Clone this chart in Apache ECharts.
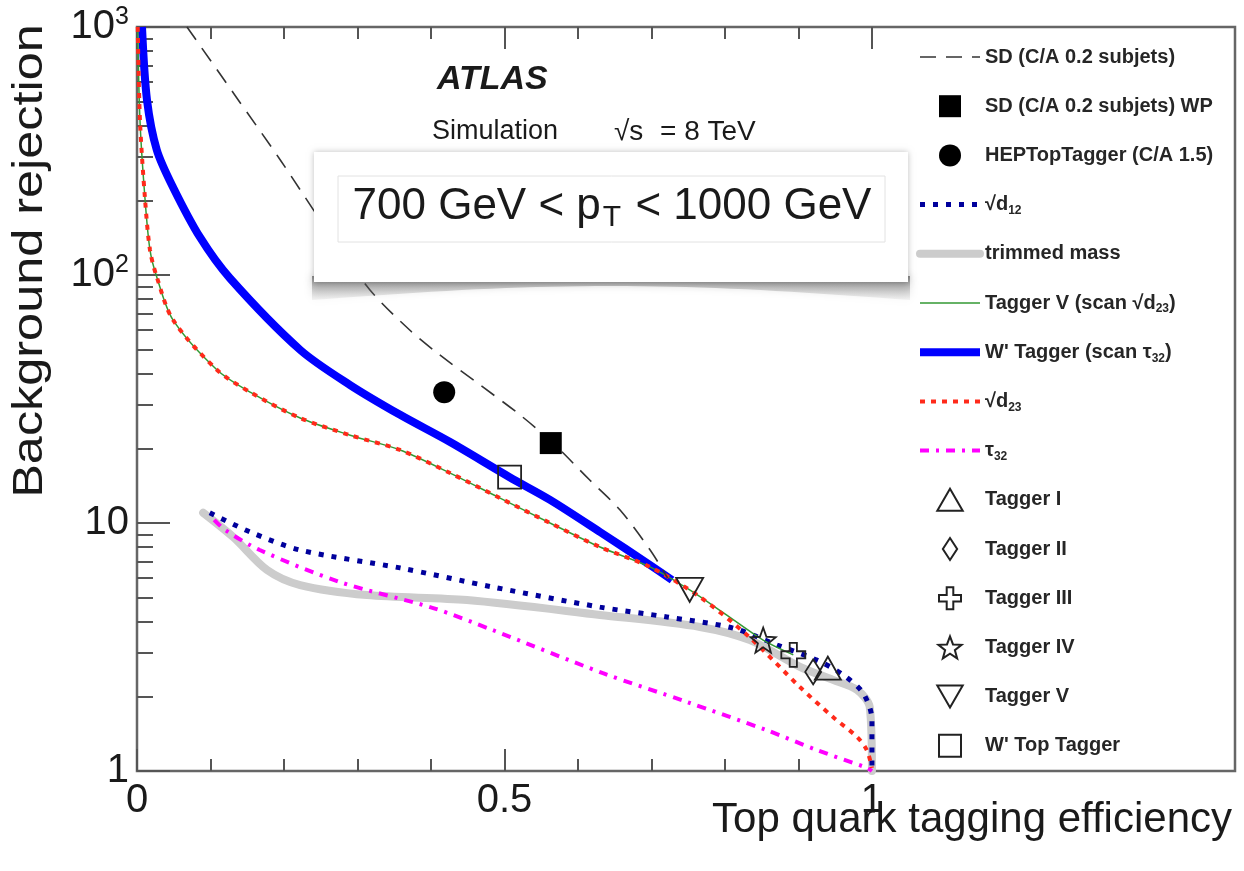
<!DOCTYPE html>
<html><head><meta charset="utf-8">
<script src="https://cdn.jsdelivr.net/npm/echarts@6/dist/echarts.min.js"></script>
<style>html,body{margin:0;padding:0;background:#fff}#c{width:1244px;height:871px}</style>
</head><body><div id="c"></div>
<script>
// ---------------- data ----------------
const sdX   = [0.068,0.133,0.195,0.263,0.317,0.371,0.412,0.467,0.521,0.566,0.616,0.657,0.698,0.722];
const sdY   = [1000,532,291,145,87,60,47.6,36,27.3,21,14.9,11.3,7.8,6.0];

const wpX   = [0.0068,0.0136,0.027,0.049,0.0857,0.1265,0.222,0.290,0.358,0.426,0.507,0.562,0.630,0.698,0.728];
const wpY   = [1000,508,319,226,142,97,49.9,36.0,27.3,21.2,15.3,12.4,9.2,6.77,5.89];

const d23X  = [0.001,0.004,0.011,0.0177,0.027,0.049,0.109,0.154,0.222,0.290,0.358,0.426,0.494,0.562,0.630,0.698,0.766,0.834,0.902,0.947,0.980,0.993,1.0];
const d23Y  = [1000,422,201,126,98,65.9,41.4,33.7,26.5,22.6,19.7,15.9,12.6,10.0,8.0,6.65,5.03,3.45,2.18,1.65,1.37,1.215,1.03];

const tvX   = [0.001,0.004,0.011,0.0177,0.027,0.049,0.109,0.154,0.222,0.290,0.358,0.426,0.494,0.562,0.630,0.698,0.752,0.80,0.852,0.893];
const tvY   = [1000,422,201,126,98,65.9,41.4,33.7,26.5,22.6,19.7,15.9,12.6,10.0,8.0,6.65,5.37,4.3,3.37,2.94];

const d12X  = [0.099,0.154,0.222,0.358,0.484,0.630,0.721,0.811,0.871,0.925,0.961,0.988,1.0,1.0];
const d12Y  = [11.0,9.2,7.78,6.59,5.52,4.58,4.18,3.77,3.22,2.80,2.44,2.06,1.61,1.0];

const trimX = [0.09,0.131,0.177,0.222,0.313,0.449,0.630,0.766,0.834,0.902,0.947,0.980,0.997,1.0];
const trimY = [11.0,8.77,6.46,5.62,5.12,4.89,4.26,3.81,3.37,2.63,2.33,2.12,1.81,1.0];

const tauX  = [0.105,0.120,0.167,0.276,0.403,0.484,0.634,0.748,0.857,0.925,0.993,1.0];
const tauY  = [10.3,9.37,7.78,5.78,4.54,3.70,2.48,1.90,1.46,1.215,1.03,1.0];

// working points: [efficiency, rejection]
const ptSDWP   = [0.563, 21.0];
const ptHEP    = [0.418, 33.7];
const ptT1     = [0.940, 2.60];
const ptT2     = [0.920, 2.51];
const ptT3     = [0.893, 2.94];
const ptT4     = [0.852, 3.37];
const ptT5     = [0.752, 5.37];
const ptWTop   = [0.507, 15.3];

// axes
const xMajorTicks = [0, 0.5, 1];
const xMinorTicks = [0.1,0.2,0.3,0.4,0.6,0.7,0.8,0.9];
const xTickLabels = ['0','0.5','1'];
const yMajorTicks = [1, 10, 100, 1000];
const yTickLabels = ['1','10','10^2','10^3'];
const yMinorTicks = [2,3,4,5,6,7,8,9,20,30,40,50,60,70,80,90,200,300,400,500,600,700,800,900];

// ---------------- chart ----------------
const FONT = 'Liberation Sans, Arial, Helvetica, sans-serif';
const TXT = '#1a1a1a';
const pair = (xs, ys) => xs.map((x, i) => [x, ys[i]]);

function starPath() {
  const pts = [];
  for (let i = 0; i < 10; i++) {
    const r = i % 2 === 0 ? 10 : 4.2;
    const a = -Math.PI / 2 + i * Math.PI / 5;
    pts.push((10 + r * Math.cos(a)).toFixed(2) + ',' + (10.5 + r * Math.sin(a)).toFixed(2));
  }
  return 'path://M' + pts.join('L') + 'Z';
}
const SYM = {
  square: 'path://M0,0H20V20H0Z',
  triangle: 'path://M10,0L20,17.3L0,17.3Z',
  triangleDown: 'path://M0,0L20,0L10,17.3Z',
  diamond: 'path://M6.5,0L13,10L6.5,20L0,10Z',
  cross: 'path://M7,0H13V7H20V13H13V20H7V13H0V7H7Z',
  star: starPath()
};

function line(name, xs, ys, ls, z) {
  return { name, type: 'line', data: pair(xs, ys), symbol: 'none', smooth: 0.3,
           lineStyle: ls, itemStyle: { color: ls.color }, z, silent: true, clip: false };
}
function pt(name, p, symbol, size, filled, z) {
  return { name, type: 'scatter', data: [p], symbol, symbolSize: size, z: z || 6, silent: true,
           itemStyle: filled ? { color: '#000', borderColor: '#000', borderWidth: 0, opacity: 1 }
                             : { color: 'rgba(0,0,0,0)', borderColor: '#222', borderWidth: 1.8, opacity: 1 } };
}

const series = [
  line('trimmed mass', trimX, trimY, { color: '#cccccc', width: 8, cap: 'round', join: 'round' }, 2),
  line('√d12', d12X, d12Y, { color: '#00009c', width: 5, type: [5, 8] }, 3),
  line('τ32', tauX, tauY, { color: '#ff00ff', width: 4, type: [9, 7, 3, 7] }, 3),
  line("W' Tagger (scan τ32)", wpX, wpY, { color: '#0000ff', width: 8, join: 'round' }, 4),
  line('Tagger V (scan √d23)', tvX, tvY, { color: '#339933', width: 1.5 }, 4),
  line('√d23', d23X, d23Y, { color: '#ff2a1a', width: 4, type: [5, 6] }, 5),
  line('SD (C/A 0.2 subjets)', sdX, sdY, { color: '#333333', width: 1.6, type: [16, 10] }, 5),
  pt('SD (C/A 0.2 subjets) WP', ptSDWP, SYM.square, 22, true),
  pt('HEPTopTagger (C/A 1.5)', ptHEP, 'circle', 22, true),
  pt('Tagger I', ptT1, SYM.triangle, [26, 23], false),
  pt('Tagger II', ptT2, SYM.diamond, [16, 25], false),
  pt('Tagger III', ptT3, SYM.cross, 24, false),
  pt('Tagger IV', ptT4, SYM.star, 25, false),
  pt('Tagger V', ptT5, SYM.triangleDown, [27, 24], false),
  pt("W' Top Tagger", ptWTop, SYM.square, 23, false)
];

const legendOrder = [
  ['SD (C/A 0.2 subjets)', 1.6], ['SD (C/A 0.2 subjets) WP'], ['HEPTopTagger (C/A 1.5)'],
  ['√d12', 5], ['trimmed mass', 8], ['Tagger V (scan √d23)', 1.5], ["W' Tagger (scan τ32)", 8],
  ['√d23', 4], ['τ32', 4], ['Tagger I'], ['Tagger II'], ['Tagger III'], ['Tagger IV'], ['Tagger V'], ["W' Top Tagger"]
];

const tickStyle = { lineStyle: { color: '#555', width: 2 } };
function xAx(pos, ticks, len, labels) {
  return {
    type: 'value', position: pos, min: 0, max: 1.494, gridIndex: 0,
    axisLine: { show: false }, splitLine: { show: false },
    axisTick: Object.assign({ show: true, inside: true, length: len, customValues: ticks }, tickStyle),
    axisLabel: labels ? {
      show: true, customValues: xMajorTicks, margin: 10, fontSize: 40, fontFamily: FONT, color: TXT,
      formatter: v => xTickLabels[xMajorTicks.findIndex(t => Math.abs(t - v) < 1e-9)]
    } : { show: false }
  };
}
function yTickAx(ticks, len, labels) {
  return {
    type: 'value', position: 'left', min: 0, max: 3, gridIndex: 0,
    axisLine: { show: false }, splitLine: { show: false },
    axisTick: Object.assign({ show: true, inside: true, length: len, customValues: ticks.map(Math.log10) }, tickStyle),
    axisLabel: labels ? {
      show: true, customValues: yMajorTicks.map(Math.log10), margin: 8,
      formatter: v => {
        const s = yTickLabels[yMajorTicks.findIndex(t => Math.abs(Math.log10(t) - v) < 1e-9)];
        const m = s.split('^');
        return m.length > 1 ? '{b|' + m[0] + '}{sup|' + m[1] + '}' : '{b|' + s + '}';
      },
      rich: {
        b: { fontSize: 40, fontFamily: FONT, color: TXT },
        sup: { fontSize: 25, fontFamily: FONT, color: TXT, padding: [0, 0, 20, 0] }
      }
    } : { show: false }
  };
}

// shadow under the pT box (curled-paper look)
const shadowPts = [];
for (let i = 0; i <= 40; i++) {
  const t = i / 40, x = 312 + t * 598;
  shadowPts.push([x, 300 - 14 * Math.sin(Math.PI * t)]);
}
shadowPts.push([910, 276], [312, 276]);

const LEG = '#262626';
const chart = echarts.init(document.getElementById('c'), null, { renderer: 'canvas' });
chart.setOption({
  animation: false,
  backgroundColor: '#fff',
  grid: { left: 137, top: 27, width: 1098, height: 744, show: true, borderColor: '#666', borderWidth: 2.5, backgroundColor: 'transparent' },
  xAxis: [
    xAx('bottom', xMinorTicks, 12, true),
    xAx('bottom', xMajorTicks, 22, false),
    xAx('top', xMinorTicks, 12, false),
    xAx('top', xMajorTicks, 22, false)
  ],
  yAxis: [
    { type: 'log', logBase: 10, min: 1, max: 1000, gridIndex: 0, show: false },
    yTickAx(yMajorTicks, 33, true),
    yTickAx(yMinorTicks, 16, false)
  ],
  legend: {
    orient: 'vertical', left: 916, top: 45, padding: 0,
    itemWidth: 60, itemHeight: 22, itemGap: 25.2, selectedMode: false,
    textStyle: { fontSize: 20, lineHeight: 24, fontWeight: 'bold', fontFamily: FONT, color: LEG,
                 rich: { sub: { fontSize: 12, lineHeight: 24, fontWeight: 'bold', fontFamily: FONT, color: LEG, verticalAlign: 'bottom' } } },
    formatter: name => name.replace(/(d|τ)(\d\d)/g, '$1{sub|$2}'),
    data: legendOrder.map(([n, w]) => w
      ? { name: n, lineStyle: { width: w }, itemStyle: { color: 'rgba(0,0,0,0)', borderWidth: 0, opacity: 0 } }
      : { name: n })
  },
  series,
  graphic: [
    { type: 'text', x: 30, y: 261, rotation: Math.PI / 2, scaleX: 1.2, z: 20,
      style: { text: 'Background rejection', fontSize: 42, fontFamily: FONT, fill: TXT, align: 'center', verticalAlign: 'middle' } },
    { type: 'text', x: 1232, y: 820, z: 20,
      style: { text: 'Top quark tagging efficiency', fontSize: 42, fontFamily: FONT, fill: TXT, align: 'right', verticalAlign: 'middle' } },
    { type: 'text', x: 437, y: 80, z: 20,
      style: { text: 'ATLAS', fontSize: 34, fontWeight: 'bold', fontStyle: 'italic', fontFamily: FONT, fill: TXT, align: 'left', verticalAlign: 'middle' } },
    { type: 'text', x: 432, y: 132, z: 20,
      style: { text: 'Simulation', fontSize: 27, fontFamily: FONT, fill: TXT, align: 'left', verticalAlign: 'middle' } },
    { type: 'text', x: 614, y: 132, z: 20,
      style: { text: '√s', fontSize: 28, fontFamily: FONT, fill: TXT, align: 'left', verticalAlign: 'middle' } },
    { type: 'text', x: 660, y: 132, z: 20,
      style: { text: '= 8 TeV', fontSize: 28, fontFamily: FONT, fill: TXT, align: 'left', verticalAlign: 'middle' } },
    { type: 'polygon', z: 19, shape: { points: shadowPts },
      style: { fill: new echarts.graphic.LinearGradient(0, 0, 0, 1, [
                 { offset: 0, color: 'rgba(70,70,70,0.6)' }, { offset: 1, color: 'rgba(150,150,150,0.1)' }]),
               shadowBlur: 8, shadowColor: 'rgba(0,0,0,0.3)' } },
    { type: 'rect', z: 20, shape: { x: 314, y: 152, width: 594, height: 130 },
      style: { fill: '#fff', shadowBlur: 6, shadowColor: 'rgba(0,0,0,0.25)', shadowOffsetX: 0, shadowOffsetY: 0 } },
    { type: 'rect', z: 21, shape: { x: 338, y: 176, width: 547, height: 66 },
      style: { fill: '#fff', stroke: '#e2e2e2', lineWidth: 1 } },
    { type: 'text', x: 612, y: 207, z: 22,
      style: { text: '{a|700 GeV < p}{s|T}{a| < 1000 GeV}', align: 'center', verticalAlign: 'middle',
               rich: { a: { fontSize: 44, fontFamily: FONT, fill: TXT, color: TXT },
                       s: { fontSize: 30, fontFamily: FONT, fill: TXT, color: TXT, padding: [22, 2, 0, 2] } } } }
  ]
});
</script></body></html>
